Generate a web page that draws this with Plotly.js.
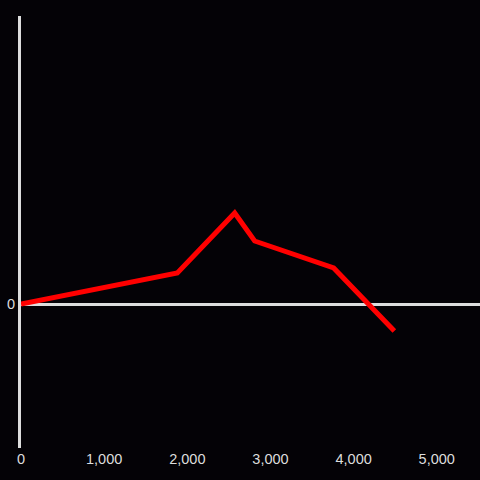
<!DOCTYPE html>
<html>
<head>
<meta charset="utf-8">
<script src="https://cdn.plot.ly/plotly-3.0.1.min.js"></script>
<style>html,body{margin:0;padding:0;background:#040206;}</style>
</head>
<body>
<div id="chart" style="width:480px;height:480px;"></div>
<script>
const xValues = [0, 1880, 2570, 2810, 3760, 4490];
const yValues = [0, 31, 91, 63, 36, -27];
const xTickVals = [0, 1000, 2000, 3000, 4000, 5000];
const xTickText = ['0', '1,000', '2,000', '3,000', '4,000', '5,000'];
const yTickVals = [0];
const yTickText = ['0'];

Plotly.newPlot('chart', [{
  x: xValues,
  y: yValues,
  type: 'scatter',
  mode: 'lines',
  line: {color: '#ff0000', width: 5},
  hoverinfo: 'skip'
}], {
  width: 480, height: 480,
  margin: {l: 21, r: 0, t: 16, b: 32},
  paper_bgcolor: '#040206',
  plot_bgcolor: '#040206',
  showlegend: false,
  font: {family: 'Liberation Sans, Arial, sans-serif', size: 14.5, color: '#dddddd'},
  xaxis: {
    range: [0, 5520],
    tickvals: xTickVals, ticktext: xTickText,
    showgrid: false, zeroline: false, showline: false,
    ticks: '', ticklen: 0
  },
  yaxis: {
    range: [-144, 288],
    tickvals: yTickVals, ticktext: yTickText,
    showgrid: false, zeroline: true, zerolinecolor: '#dddddd', zerolinewidth: 3,
    showline: true, linecolor: '#dddddd', linewidth: 3,
    ticks: '', ticklen: 0
  }
}, {displayModeBar: false, staticPlot: true});
</script>
</body>
</html>
